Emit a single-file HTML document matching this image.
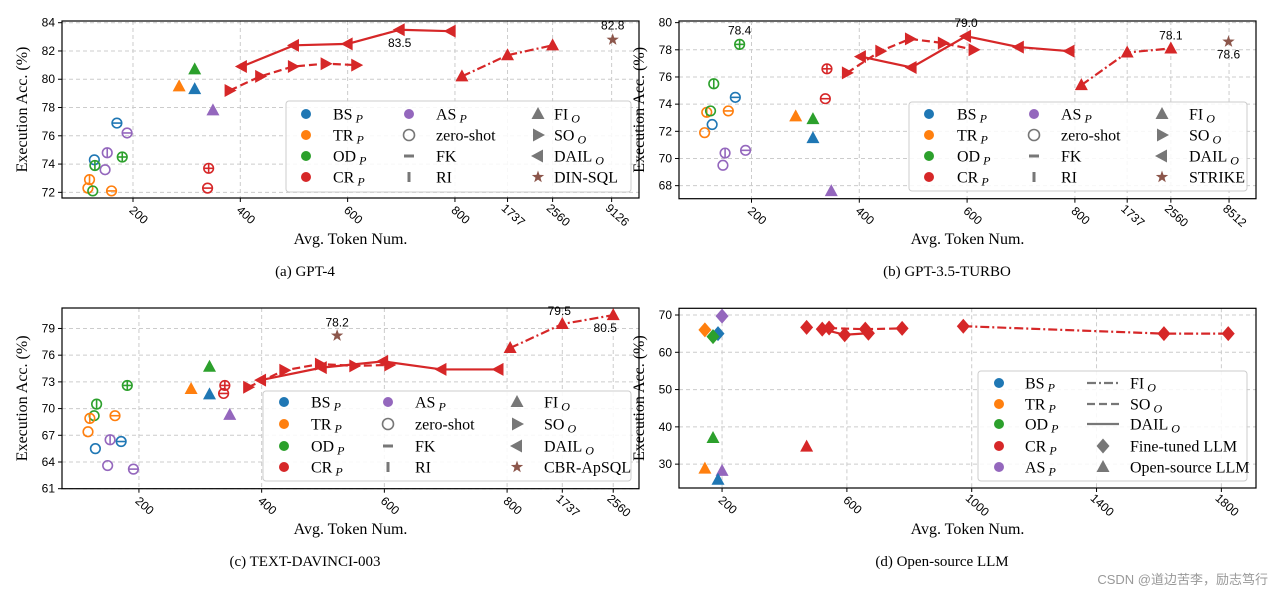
<!DOCTYPE html>
<html><head><meta charset="utf-8"><style>
html,body{margin:0;padding:0;background:#fff;}
svg{display:block;}
.tk{font-family:"Liberation Sans",sans-serif;font-size:12px;fill:#000;}
.sf{font-family:"Liberation Serif",serif;fill:#000;}
</style></head><body>
<svg id="chart" width="1282" height="597" viewBox="0 0 1282 597" xmlns="http://www.w3.org/2000/svg">
<text class="sf" x="305" y="276" font-size="15" text-anchor="middle">(a)  GPT-4</text>
<text class="sf" x="947" y="276" font-size="15" text-anchor="middle">(b)  GPT-3.5-TURBO</text>
<text class="sf" x="305" y="566" font-size="15" text-anchor="middle">(c)  TEXT-DAVINCI-003</text>
<text class="sf" x="942" y="566" font-size="15" text-anchor="middle">(d)  Open-source LLM</text>
<text x="1268" y="584" font-size="13" text-anchor="end" fill="#999" font-family="Liberation Sans,Noto Sans CJK SC,sans-serif">CSDN @道边苦李，励志笃行</text>
</svg>
<script>
const C={b:'#1f77b4',o:'#ff7f0e',g:'#2ca02c',r:'#d62728',p:'#9467bd',s:'#8c564b'};
// ---- Panel A (GPT-4) ----
const aXTicks=[200,400,600,800,898,982,1092];
const aXLabels=['200','400','600','800','1737','2560','9126'];
const aYTicks=[72,74,76,78,80,82,84];
const aDail=[[403,80.9],[500,82.4],[600,82.5],[697,83.5],[792,83.4]];
const aSo=[[380,79.2],[437,80.2],[498,80.9],[559,81.1],[616,81.0]];
const aFi=[[813,80.2],[898,81.7],[982,82.4]];
const aTri=[[315,80.7,'g'],[315,79.3,'b'],[286,79.5,'o'],[349,77.8,'p']];
const aCirc=[[170,76.9,'b','fk'],[128,74.3,'b','z'],[189,76.2,'p','fk'],[152,74.8,'p','ri'],[148,73.6,'p','z'],[129,73.9,'g','ri'],[180,74.5,'g','both'],[116,72.3,'o','z'],[119,72.9,'o','ri'],[125,72.1,'g','z'],[160,72.1,'o','fk'],[341,73.7,'r','both'],[339,72.3,'r','fk']];
const aStar=[[1094,82.8]];
// ---- Panel B (GPT-3.5) ----
const bXTicks=[200,400,600,800,897,978,1086];
const bXLabels=['200','400','600','800','1737','2560','8512'];
const bYTicks=[68,70,72,74,76,78,80];
const bDail=[[403,77.5],[497,76.7],[598,79.0],[696,78.2],[790,77.9]];
const bSo=[[377,76.3],[439,77.9],[494,78.8],[555,78.5],[612,78.0]];
const bFi=[[812,75.4],[897,77.8],[978,78.1]];
const bTri=[[282,73.1,'o'],[314,72.9,'g'],[314,71.5,'b'],[348,67.6,'p']];
const bCirc=[[178,78.4,'g','both'],[130,75.5,'g','ri'],[170,74.5,'b','fk'],[157,73.5,'o','fk'],[117,73.4,'o','ri'],[124,73.5,'g','z'],[127,72.5,'b','z'],[113,71.9,'o','z'],[151,70.4,'p','ri'],[147,69.5,'p','z'],[189,70.6,'p','fk'],[340,76.6,'r','both'],[337,74.4,'r','fk']];
const bStar=[[1085,78.6]];
// ---- Panel C (DAVINCI) ----
const cXTicks=[200,400,600,800,890,973];
const cXLabels=['200','400','600','800','1737','2560'];
const cYTicks=[61,64,67,70,73,76,79];
const cDail=[[399,73.2],[498,74.6],[598,75.3],[693,74.4],[786,74.4]];
const cSo=[[378,72.4],[437,74.3],[495,75.0],[551,74.8],[608,74.9]];
const cFi=[[805,76.8],[890,79.5],[973,80.5]];
const cTri=[[315,74.7,'g'],[285,72.2,'o'],[315,71.6,'b'],[348,69.3,'p']];
const cCirc=[[181,72.6,'g','both'],[131,70.5,'g','ri'],[127,69.2,'g','z'],[120,68.9,'o','ri'],[161,69.2,'o','fk'],[117,67.4,'o','z'],[129,65.5,'b','z'],[171,66.3,'b','fk'],[153,66.5,'p','ri'],[149,63.6,'p','z'],[191,63.2,'p','fk'],[340,72.6,'r','both'],[338,71.7,'r','fk']];
const cStar=[[523,78.2]];
// ---- Panel D (open source) ----
const dXTicks=[200,600,1000,1400,1800];
const dXLabels=['200','600','1000','1400','1800'];
const dYTicks=[30,40,50,60,70];
const dDiaPrompt=[[200,69.7,'p'],[145,66.0,'o'],[187,65.0,'b'],[171,64.2,'g']];
const dRedDia=[[471,66.7],[521,66.2],[543,66.5],[593,64.7],[659,66.2],[669,65.1],[777,66.4],[973,67.0],[1616,65.0],[1822,65.0]];
const dFi=[[973,67.0],[1616,65.0],[1822,65.0]];
const dSo=[[543,66.5],[659,66.2],[777,66.4]];
const dDail=[[521,66.2],[593,64.7],[669,65.1]];
const dTri=[[171,37.0,'g'],[471,34.7,'r'],[145,28.8,'o'],[200,28.2,'p'],[187,25.8,'b']];

const svg=document.getElementById('chart');
const NS='http://www.w3.org/2000/svg';
function el(tag,attrs,parent){const e=document.createElementNS(NS,tag);for(const k in attrs)e.setAttribute(k,attrs[k]);(parent||svg).appendChild(e);return e;}

function mark(g,type,x,y,color,inner){
  let e;
  if(type==='circle'){
    e=el('g',{},g);
    el('circle',{cx:x,cy:y,r:4.8,fill:'none',stroke:color,'stroke-width':1.6},e);
    if(inner==='fk'||inner==='both')el('line',{x1:x-4.8,y1:y,x2:x+4.8,y2:y,stroke:color,'stroke-width':1.6},e);
    if(inner==='ri'||inner==='both')el('line',{x1:x,y1:y-4.8,x2:x,y2:y+4.8,stroke:color,'stroke-width':1.6},e);
  }else if(type==='dot'){e=el('circle',{cx:x,cy:y,r:5,fill:color},g);}
  else if(type==='up'){e=el('polygon',{points:`${x},${y-7} ${x-6.5},${y+5} ${x+6.5},${y+5}`,fill:color},g);}
  else if(type==='left'){e=el('polygon',{points:`${x-7},${y} ${x+5},${y-6.5} ${x+5},${y+6.5}`,fill:color},g);}
  else if(type==='right'){e=el('polygon',{points:`${x+7},${y} ${x-5},${y-6.5} ${x-5},${y+6.5}`,fill:color},g);}
  else if(type==='diamond'){e=el('polygon',{points:`${x},${y-7.5} ${x+6.5},${y} ${x},${y+7.5} ${x-6.5},${y}`,fill:color},g);}
  else if(type==='star'){let p=[];for(let i=0;i<10;i++){const a=-Math.PI/2+i*Math.PI/5,r=i%2?2.6:6.5;p.push((x+r*Math.cos(a)).toFixed(1)+','+(y+r*Math.sin(a)).toFixed(1));}e=el('polygon',{points:p.join(' '),fill:color},g);}
  else if(type==='hbar'){e=el('rect',{x:x-5,y:y-1.5,width:10,height:3,fill:color},g);}
  else if(type==='vbar'){e=el('rect',{x:x-1.5,y:y-5,width:3,height:10,fill:color},g);}
  return e;
}

function panel(cfg){
  const g=el('g',{});
  
  
  const {l,r,t,b}=cfg.box;
  const sx=v=>l+(v-cfg.xd[0])/(cfg.xd[1]-cfg.xd[0])*(r-l);
  const sy=v=>b-(v-cfg.yd[0])/(cfg.yd[1]-cfg.yd[0])*(b-t);
  cfg.xTicks.forEach((v,i)=>{
    const x=sx(v);
    const gl=el('line',{x1:x,y1:t,x2:x,y2:b,stroke:'#ccc','stroke-dasharray':'4,3','stroke-width':1},g);
    
    
    el('line',{x1:x,y1:b,x2:x,y2:b+4,stroke:'#000'},g);
    const tx=el('text',{class:'tk',x:0,y:0,'text-anchor':'middle',transform:`translate(${x+3},${b+20}) rotate(42)`},g);
    tx.textContent=cfg.xLabels[i];
    
    
  });
  cfg.yTicks.forEach(v=>{
    const y=sy(v);
    const gl=el('line',{x1:l,y1:y,x2:r,y2:y,stroke:'#ccc','stroke-dasharray':'4,3','stroke-width':1},g);
    
    
    el('line',{x1:l-4,y1:y,x2:l,y2:y,stroke:'#000'},g);
    const tx=el('text',{class:'tk',x:l-7,y:y+4,'text-anchor':'end'},g);
    tx.textContent=String(v);
    
    
  });
  const fr=el('rect',{x:l,y:t,width:r-l,height:b-t,fill:'none',stroke:'#000','stroke-width':1.2},g);
  
  
  const yl=el('text',{class:'sf','font-size':16,'text-anchor':'middle',transform:`translate(${l-35},${(t+b)/2}) rotate(-90)`},g);
  yl.textContent='Execution Acc. (%)';
  
  
  const xl=el('text',{class:'sf','font-size':16,'text-anchor':'middle',x:(l+r)/2,y:cfg.xlabY},g);
  xl.textContent='Avg. Token Num.';
  
  
  const line=(pts,dash,name)=>{
    const p=el('polyline',{points:pts.map(q=>sx(q[0])+','+sy(q[1])).join(' '),fill:'none',stroke:C.r,'stroke-width':2.2,'stroke-dasharray':dash},g);
    
    
  };
  if(cfg.dail)line(cfg.dail,'none','dail-line');
  if(cfg.so)line(cfg.so,'8,4','so-line');
  if(cfg.fi)line(cfg.fi,'9,3,2,3','fi-line');
  if(cfg.mkLines!==false){
    if(cfg.dail)cfg.dail.forEach(q=>{const m=mark(g,'left',sx(q[0]),sy(q[1]),C.r);});
    if(cfg.so)cfg.so.forEach(q=>{const m=mark(g,'right',sx(q[0]),sy(q[1]),C.r);});
    if(cfg.fi)cfg.fi.forEach(q=>{const m=mark(g,'up',sx(q[0]),sy(q[1]),C.r);});
  }
  (cfg.dia||[]).forEach(q=>{const m=mark(g,'diamond',sx(q[0]),sy(q[1]),C[q[2]||'r']);});
  (cfg.tri||[]).forEach(q=>{const m=mark(g,'up',sx(q[0]),sy(q[1]),C[q[2]]);});
  (cfg.circ||[]).forEach(q=>{const m=mark(g,'circle',sx(q[0]),sy(q[1]),C[q[2]],q[3]);});
  (cfg.star||[]).forEach(q=>{const m=mark(g,'star',sx(q[0]),sy(q[1]),C.s);});
  (cfg.ann||[]).forEach(a=>{
    const tx=el('text',{class:'tk',x:sx(a[0])+a[2],y:sy(a[1])+a[3],'text-anchor':'middle'},g);
    tx.textContent=a[1].toFixed(1);
    
    
  });
  const L=cfg.leg;
  const lg=el('g',{},g);
  
  
  el('rect',{x:L.box[0],y:L.box[1],width:L.box[2]-L.box[0],height:L.box[3]-L.box[1],rx:3,fill:'#fff','fill-opacity':0.85,stroke:'#ccc'},lg);
  L.items.forEach(it=>{
    const [col,row,kind,color,label,sub]=it;
    const mx=L.mk[col],tx=L.tx[col],y=L.rows[row];
    const eg=el('g',{},lg);
    
    
    if(kind.startsWith('ln')){
      el('line',{x1:mx-16,y1:y,x2:mx+16,y2:y,stroke:'#777','stroke-width':2.2,'stroke-dasharray':kind==='ln-dd'?'9,3,2,3':kind==='ln-d'?'8,4':'none'},eg);
    }else if(kind==='circle'){el('circle',{cx:mx,cy:y,r:5.5,fill:'none',stroke:'#777','stroke-width':1.6},eg);}
    else mark(eg,kind,mx,y,color);
    const t=el('text',{class:'sf','font-size':16,x:tx,y:y+5.5},eg);
    t.textContent=label;
    if(sub){const s=el('tspan',{'font-style':'italic','font-size':12,dx:3,dy:3},t);s.textContent=sub;}
  });
}
const stdItems=(last)=>[[0,0,'dot',C.b,'BS','P'],[0,1,'dot',C.o,'TR','P'],[0,2,'dot',C.g,'OD','P'],[0,3,'dot',C.r,'CR','P'],
 [1,0,'dot',C.p,'AS','P'],[1,1,'circle','#777','zero-shot'],[1,2,'hbar','#777','FK'],[1,3,'vbar','#777','RI'],
 [2,0,'up','#777','FI','O'],[2,1,'right','#777','SO','O'],[2,2,'left','#777','DAIL','O'],[2,3,'star',C.s,last]];

panel({name:'panel-gpt4',box:{l:62,r:639,t:21,b:198},xd:[67.7,1143],yd:[71.6,84.12],xTicks:aXTicks,xLabels:aXLabels,yTicks:aYTicks,xlabY:244,
 dail:aDail,so:aSo,fi:aFi,tri:aTri,circ:aCirc,star:aStar,ann:[[697,83.5,0,17],[1094,82.8,0,-10]],
 leg:{box:[286,101,631,192],mk:[306,409,538],tx:[333,436,554],rows:[114,135,156,177],items:stdItems('DIN-SQL')}});
panel({name:'panel-gpt35',box:{l:679,r:1256,t:21,b:198.7},xd:[65.5,1136],yd:[67.04,80.12],xTicks:bXTicks,xLabels:bXLabels,yTicks:bYTicks,xlabY:244,
 dail:bDail,so:bSo,fi:bFi,tri:bTri,circ:bCirc,star:bStar,ann:[[598,79.0,0,-9],[978,78.1,0,-9],[1085,78.6,0,17],[178,78.4,0,-10]],
 leg:{box:[909,102,1247,191],mk:[929,1034,1162],tx:[957,1061,1189],rows:[114,135,156,177],items:stdItems('STRIKE')}});
panel({name:'panel-davinci',box:{l:62,r:639,t:308,b:488.7},xd:[74.6,1015],yd:[61,81.3],xTicks:cXTicks,xLabels:cXLabels,yTicks:cYTicks,xlabY:534,
 dail:cDail,so:cSo,fi:cFi,tri:cTri,circ:cCirc,star:cStar,ann:[[523,78.2,0,-9],[890,79.5,-3,-9],[973,80.5,-8,17]],
 leg:{box:[263,391,631,481],mk:[284,388,517],tx:[311,415,544],rows:[402,424,446,467],items:stdItems('CBR-ApSQL')}});
panel({name:'panel-open-source',box:{l:679,r:1256,t:308.3,b:488},xd:[62,1911],yd:[23.6,71.8],xTicks:dXTicks,xLabels:dXLabels,yTicks:dYTicks,xlabY:534,
 dail:dDail,so:dSo,fi:dFi,mkLines:false,dia:dDiaPrompt.concat(dRedDia.map(q=>[q[0],q[1],'r'])),tri:dTri,
 leg:{box:[978,371,1247,481],mk:[999,1103],tx:[1025,1130],rows:[383,404,424,446,467],items:[
  [0,0,'dot',C.b,'BS','P'],[0,1,'dot',C.o,'TR','P'],[0,2,'dot',C.g,'OD','P'],[0,3,'dot',C.r,'CR','P'],[0,4,'dot',C.p,'AS','P'],
  [1,0,'ln-dd','#777','FI','O'],[1,1,'ln-d','#777','SO','O'],[1,2,'ln','#777','DAIL','O'],[1,3,'diamond','#777','Fine-tuned LLM'],[1,4,'up','#777','Open-source LLM']]}});
</script>
</body></html>
